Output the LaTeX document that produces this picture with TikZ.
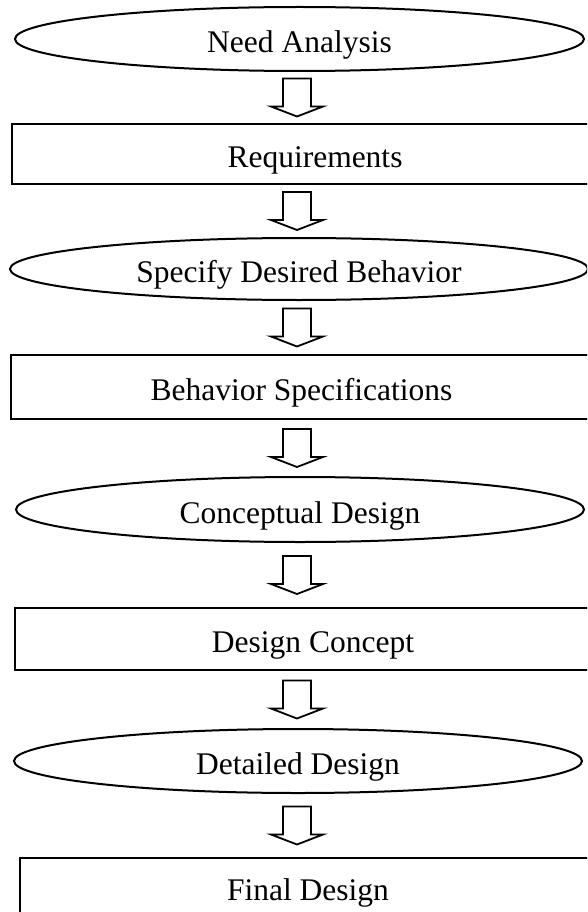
\documentclass[tikz,border=0pt]{standalone}
\usepackage{fontspec}
\setmainfont{Liberation Serif}
\usetikzlibrary{shapes.geometric,calc}
\begin{document}
\begin{tikzpicture}[x=1pt,y=-1pt,
  labeltext/.style={font=\fontsize{31.5}{36}\selectfont, text height=27pt, text depth=0pt},
  stagebox/.style={draw, ellipse, line width=2pt, inner sep=0pt, outer sep=0pt, labeltext},
  resultbox/.style={draw, rectangle, line width=2pt, inner sep=0pt, outer sep=0pt, labeltext},
  blockdown/.pic={\draw[line width=1.8pt, line join=miter]
    (-14,-19) -- (-14,9) -- (-26,9) -- (0,19) -- (26,9) -- (14,9) -- (14,-19) -- cycle;}
]
\useasboundingbox (0,0) rectangle (587,912);
\clip (0,0) rectangle (587,912);

% process steps (ellipses) and their results (boxes)
\node[stagebox,  minimum width=569pt, minimum height=64pt] (need)  at (299.5,39)  {Need Analysis};
\node[resultbox, minimum width=606pt, minimum height=60pt] (req)   at (315,154)   {Requirements};
\node[stagebox,  minimum width=578pt, minimum height=62pt] (spec)  at (299,269)   {Specify Desired Behavior};
\node[resultbox, minimum width=581pt, minimum height=64pt] (bspec) at (301.5,387) {Behavior Specifications};
\node[stagebox,  minimum width=568pt, minimum height=65pt] (conc)  at (300,509.5) {Conceptual Design};
\node[resultbox, minimum width=596pt, minimum height=62pt] (dconc) at (313,639)   {Design Concept};
\node[stagebox,  minimum width=568pt, minimum height=64pt] (det)   at (298,761)   {Detailed Design};
\node[resultbox, minimum width=576pt, minimum height=58pt] (final) at (308,887)   {Final Design};

% hollow block arrows between consecutive steps
\coordinate (axis) at (297,0);
\foreach \a/\b [count=\i] in {need/req, req/spec, spec/bspec, bspec/conc, conc/dconc, dconc/det, det/final}{
  \coordinate (m\i) at ($(\a.south)!0.5!(\b.north)$);
  \pic at (axis |- m\i) {blockdown};
}
\end{tikzpicture}
\end{document}
